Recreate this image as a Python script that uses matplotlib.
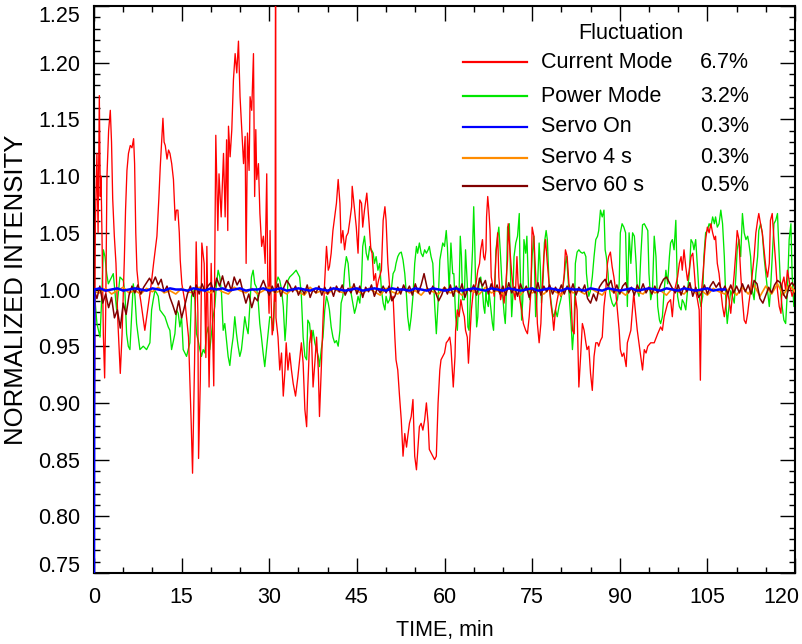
import numpy as np
import matplotlib
matplotlib.use("Agg")
import matplotlib.pyplot as plt
from matplotlib.ticker import MultipleLocator
from matplotlib.transforms import ScaledTranslation

plt.rcParams['font.family'] = ['Liberation Sans', 'DejaVu Sans']

# ---------------- data ----------------
# Current Mode (minutes, normalized intensity)
current_t = [
    0.0, 0.1, 0.23, 0.5, 0.7, 0.91, 1.08, 1.2, 1.37, 1.6, 1.82, 2.0, 2.22, 2.5, 2.79, 3.0, 3.2, 3.48, 3.76, 4.1,
    4.5, 4.8, 5.19, 5.4, 5.64, 5.9, 6.21, 6.5, 6.78, 6.95, 7.15, 7.35, 7.64, 8.0, 8.4, 8.7, 9.0, 9.4, 9.8, 10.2,
    10.77, 11.1, 11.34, 11.8, 12.0, 12.2, 12.5, 12.76, 13.0, 13.3, 13.6, 13.9, 14.1, 14.36, 14.6, 14.76, 15.04, 15.6, 16.18, 16.64,
    16.87, 17.21, 17.49, 17.78, 17.9, 18.2, 18.46, 18.86, 19.15, 19.32, 19.7, 20.06, 20.5, 20.85, 21.2, 21.4, 21.77, 22.17, 22.45, 22.7,
    22.9, 23.02, 23.3, 23.59, 23.87, 24.16, 24.44, 24.73, 25.0, 25.3, 25.6, 25.87, 26.04, 26.27, 26.55, 26.72, 27.0, 27.3, 27.5, 27.7,
    27.86, 28.15, 28.4, 28.7, 29.0, 29.3, 29.57, 29.74, 29.97, 30.14, 30.3, 30.5, 30.7, 30.9,
    31.0, 31.08, 31.15, 31.5, 31.8, 32.1, 32.4, 32.7, 32.9, 33.2, 33.5, 33.8, 34.1, 34.5, 34.9, 35.5, 35.8, 36.1, 36.4, 36.6,
    36.9, 37.2, 37.5, 37.8, 38.1, 38.4, 38.6, 38.9, 39.2, 39.5, 39.8, 40.1, 40.3, 40.6, 40.9, 41.2, 41.5, 41.8, 42.1, 42.3,
    42.6, 42.9, 43.2, 43.5, 43.8, 44.1, 44.2, 44.6, 44.9, 45.2, 45.5, 45.8, 46.0, 46.3, 46.7, 47.1, 47.4, 47.6, 47.9, 48.2,
    48.4, 48.7, 49.2, 49.5, 49.8, 50.0, 50.3, 50.6, 50.9, 51.2, 51.5, 51.7, 52.0, 52.3, 52.6, 52.9, 53.2, 53.5, 53.7, 54.0,
    54.3, 54.6, 54.9, 55.2, 55.4, 55.7, 56.0, 56.3, 56.6, 56.9, 57.2, 57.4, 57.7, 58.0, 58.3, 58.6, 58.9, 59.2, 59.4, 59.7,
    60.0, 60.3, 60.6, 60.9,
    61.1, 61.4, 61.5, 61.8, 61.9, 62.2, 62.5, 62.8, 63.1, 63.4, 63.6, 63.9, 64.1, 64.4, 64.6, 64.9, 65.4, 65.7, 66.0, 66.2,
    66.5, 66.7, 66.9, 67.1, 67.2, 67.4, 67.6, 67.8, 68.0, 68.2, 68.5, 68.8, 69.1, 69.3, 69.6, 69.9, 70.2, 70.5, 70.8, 70.9,
    71.2, 71.5, 71.8, 72.1, 72.4, 72.6, 72.9, 73.2, 73.5, 73.9, 74.2, 74.5, 74.8, 75.0, 75.3, 75.6, 75.9, 76.2, 76.5, 76.7,
    77.0, 77.3, 77.6, 77.9, 78.2, 78.5, 78.7, 79.0, 79.3, 79.6, 79.9, 80.2, 80.5, 80.7, 81.0, 81.3, 81.6, 81.9, 82.2, 82.4,
    82.7, 83.0, 83.3, 83.6, 83.9, 84.2, 84.4, 84.7, 85.0, 85.3, 85.6, 85.9, 86.2, 86.4, 86.7, 87.0, 87.3, 87.6, 87.9, 88.1,
    88.4, 88.7, 89.0, 89.3, 89.6, 89.9, 90.1, 90.4, 90.7,
    91.1, 91.3, 91.9, 92.4, 92.6, 93.0, 93.9, 94.2, 94.5, 94.8, 95.3, 95.9, 96.5, 97.0, 97.3, 97.6, 98.2, 98.7, 99.0, 99.3,
    99.9, 100.2, 100.5, 100.7, 101.0, 101.3, 101.6, 101.9, 102.2, 102.5, 102.7, 103.0, 103.3, 103.6, 103.8, 104.0, 104.3, 104.7, 105.0, 105.3,
    105.6, 105.9, 106.2, 106.4, 106.7, 107.0, 107.3, 107.6, 107.9, 108.2, 108.4, 108.7, 109.0, 109.3, 109.6, 109.9, 110.1, 110.4, 110.7, 111.0,
    111.3, 111.6, 111.9, 112.1, 112.4, 112.7, 113.0, 113.3, 113.6, 113.8, 114.1, 114.4, 114.7, 115.0, 115.3, 115.6, 115.8, 116.1, 116.4, 116.7,
    117.0, 117.3, 117.6, 117.8, 118.1, 118.4, 118.7, 119.0, 119.3, 119.5, 119.8, 120.0,
]
current_v = [
    0.830, 0.920, 1.058, 1.120, 1.050, 1.171, 1.082, 1.100, 1.047, 0.960, 0.922, 0.980, 1.100, 1.140, 1.158, 1.130, 1.080, 1.047, 1.023, 0.970,
    0.926, 0.960, 1.026, 1.070, 1.105, 1.120, 1.127, 1.125, 1.133, 1.111, 1.050, 1.017, 1.002, 0.990, 0.975, 0.964, 0.975, 0.990, 1.005, 1.023,
    1.047, 1.080, 1.108, 1.151, 1.130, 1.127, 1.115, 1.123, 1.120, 1.111, 1.097, 1.061, 1.070, 1.070, 1.050, 1.026, 1.005, 0.988, 0.958, 0.882,
    0.838, 0.935, 1.042, 0.980, 0.851, 0.920, 1.041, 1.023, 0.940, 1.038, 0.914, 1.023, 0.915, 1.136, 1.052, 1.102, 1.064, 1.120, 1.064, 1.132,
    1.052, 1.144, 1.117, 1.141, 1.185, 1.208, 1.191, 1.219, 1.170, 1.141, 1.111, 1.135, 1.023, 1.138, 1.105, 1.170, 1.158, 1.208, 1.082, 1.141,
    1.097, 1.111, 1.067, 1.038, 1.047, 1.023, 1.102, 1.011, 0.979, 1.052, 0.994, 0.960, 0.967, 1.000,
    0.990, 1.330, 0.975, 0.958, 0.929, 0.944, 0.906, 0.929, 0.953, 0.929, 0.944, 0.929, 0.917, 0.906, 0.923, 0.953, 0.935, 0.894, 0.879, 0.914,
    0.953, 0.964, 0.914, 0.935, 0.958, 0.929, 0.888, 0.929, 0.973, 1.008, 1.038, 1.017, 1.020, 1.032, 1.052, 1.064, 1.076, 1.097, 1.076, 1.041,
    1.052, 1.035, 1.047, 1.050, 1.061, 1.073, 1.091, 1.070, 1.055, 1.032, 1.079, 1.076, 1.055, 1.070, 1.085, 1.058, 1.035, 1.032, 1.008, 1.014,
    1.000, 1.008, 1.017, 1.061, 1.073, 1.061, 1.023, 1.003, 0.991, 0.994, 0.958, 0.938, 0.929, 0.906, 0.885, 0.853, 0.873, 0.861, 0.870, 0.882,
    0.888, 0.903, 0.853, 0.841, 0.856, 0.879, 0.882, 0.876, 0.885, 0.900, 0.882, 0.859, 0.856, 0.853, 0.850, 0.853, 0.900, 0.929, 0.938, 0.941,
    0.944, 0.953, 0.955, 0.958,
    0.950, 0.923, 0.914, 0.941, 0.964, 0.982, 0.976, 0.991, 0.982, 0.976, 0.964, 0.958, 0.935, 0.964, 0.982, 0.997, 1.005, 1.017, 1.023, 1.035,
    1.044, 1.029, 1.026, 1.035, 1.064, 1.082, 1.070, 1.052, 1.011, 1.005, 0.994, 1.029, 1.050, 1.011, 0.991, 0.999, 0.988, 1.005, 1.026, 1.058,
    1.035, 1.014, 0.999, 0.991, 1.029, 1.005, 0.991, 0.982, 0.970, 0.964, 0.961, 0.976, 0.999, 1.055, 1.047, 1.014, 0.970, 0.953, 0.970, 0.999,
    1.029, 1.044, 1.023, 1.005, 0.988, 0.976, 0.964, 0.982, 0.991, 0.999, 0.994, 0.999, 1.014, 1.035, 1.029, 1.005, 0.999, 0.964, 0.961, 0.994,
    0.982, 0.914, 0.941, 0.970, 0.964, 0.953, 0.947, 0.950, 0.926, 0.911, 0.941, 0.953, 0.953, 0.950, 0.955, 0.958, 0.985, 0.999, 1.023, 1.029,
    1.033, 1.020, 1.011, 0.999, 0.982, 0.964, 0.947, 0.941, 0.944,
    0.932, 0.953, 0.964, 0.997, 0.985, 0.964, 0.929, 0.947, 0.944, 0.950, 0.953, 0.953, 0.961, 0.967, 0.964, 0.976, 0.988, 0.991, 0.976, 0.997,
    1.011, 1.023, 1.029, 1.017, 1.035, 1.020, 1.008, 1.017, 1.029, 1.032, 1.020, 0.999, 0.991, 0.982, 0.920, 0.999, 1.017, 1.044, 1.055, 1.050,
    1.058, 1.050, 1.044, 1.047, 1.023, 1.014, 0.999, 0.985, 0.976, 0.988, 0.999, 0.991, 0.979, 0.997, 1.014, 1.035, 1.052, 1.044, 1.014, 0.991,
    0.973, 0.970, 0.979, 0.988, 0.999, 1.014, 1.029, 1.050, 1.061, 1.067, 1.058, 1.050, 1.035, 1.020, 1.011, 1.023, 1.061, 1.067, 1.044, 1.023,
    0.999, 0.985, 0.979, 1.005, 1.011, 0.999, 1.017, 1.008, 0.999, 0.994, 0.999, 1.000,
]

# Power Mode
power_t = [
    0.0, 0.17, 0.5, 1.03, 1.3, 1.6, 1.88, 2.17, 2.45, 3.3, 3.87, 4.44, 5.01, 5.3, 5.58, 5.87, 6.15, 6.44, 6.72, 7.01,
    7.29, 7.58, 7.86, 8.43, 9.0, 9.29, 9.57, 9.86, 10.14, 10.43, 10.71, 11.0, 11.28, 12.14, 12.71, 12.99, 13.28, 13.85, 14.13, 14.42,
    14.7, 14.99, 15.27, 15.56, 15.84, 16.41, 16.69, 16.98, 17.27, 17.55, 17.83, 18.12, 18.4, 18.69, 18.97, 19.26, 19.54, 19.83, 20.11, 20.4,
    20.68, 20.97, 21.25, 21.54, 21.82, 22.11, 22.39, 22.68, 22.96, 23.25, 23.53, 23.82, 24.1, 24.39, 24.67, 24.96, 25.24, 25.53, 25.81, 26.1,
    26.38, 26.67, 26.95, 27.24, 27.52, 27.81, 28.09, 28.38, 28.66, 28.95, 29.23, 29.52, 29.8, 30.09,
    30.4, 30.7, 30.9, 31.2, 31.5, 31.8, 32.1, 32.4, 32.7, 32.9, 33.2, 33.5, 34.1, 34.6, 35.2, 35.5, 35.8, 36.1, 36.4, 36.6,
    36.9, 37.2, 37.5, 37.8, 38.1, 38.4, 38.6, 38.9, 39.2, 39.5, 39.8, 40.1, 40.3, 40.6, 40.9, 41.2, 41.5, 41.8, 42.1, 42.3,
    42.6, 42.9, 43.2, 43.5, 43.8, 44.1, 44.3, 44.6, 44.9, 45.2, 45.5, 45.8, 46.0, 46.3, 46.6, 46.9, 47.2, 47.5, 47.8, 48.0,
    48.3, 48.6, 48.9, 49.2, 49.5, 49.8, 50.0, 50.3, 50.6, 50.9, 51.2, 51.5, 51.7, 52.0, 52.3, 52.6, 52.9, 53.2, 53.5, 53.7,
    54.0, 54.3, 54.6, 54.9, 55.2, 55.4, 55.7, 56.0, 56.3, 56.6, 56.9, 57.2, 57.4, 57.7, 58.0, 58.3, 58.6, 58.9, 59.2, 59.4,
    59.7, 60.0, 60.3,
    60.5, 60.8, 61.1, 61.4, 61.6, 61.9, 62.2, 62.5, 62.7, 62.9, 63.1, 63.4, 63.6, 63.9, 64.0, 64.2, 64.5, 64.8, 65.0, 65.2,
    65.4, 65.5, 65.7, 65.9, 66.2, 66.5, 66.7, 66.9, 67.1, 67.2, 67.5, 67.6, 67.9, 68.2, 68.4, 68.5, 68.8, 69.1, 69.3, 69.6,
    69.9, 70.2, 70.4, 70.5, 70.8, 71.1, 71.3, 71.5, 71.7, 71.9, 72.2, 72.5, 72.8, 72.9, 73.2, 73.4, 73.6, 73.9, 74.1, 74.4,
    74.6, 74.8, 75.0, 75.3, 75.6, 75.9, 76.2, 76.4, 76.6, 76.9, 77.1, 77.4, 77.6, 77.9, 78.2, 78.5, 78.7, 79.0, 79.3, 79.6,
    79.9, 80.2, 80.5, 80.7, 80.9, 81.1, 81.5, 81.7, 81.9, 82.2, 82.4, 82.7, 83.0, 83.3, 83.6, 83.9, 84.2, 84.3, 84.6, 84.7,
    85.0, 85.3, 85.6, 85.9, 86.2, 86.4, 86.7, 87.0, 87.3, 87.5, 87.7, 88.0, 88.1, 88.4, 88.7, 89.0, 89.3, 89.6, 89.9, 90.1,
    90.4, 90.7,
    91.0, 91.3, 91.6, 91.9, 92.2, 92.5, 92.8, 93.0, 93.3, 93.6, 93.9, 94.2, 94.5, 94.8, 95.0, 95.3, 95.6, 95.9, 96.2, 96.5,
    96.8, 97.0, 97.3, 97.6, 97.9, 98.2, 98.5, 98.7, 99.0, 99.3, 99.6, 99.9, 100.2, 100.5, 100.7, 101.0, 101.3, 101.6, 101.9, 102.2,
    102.5, 102.7, 103.0, 103.3, 103.6, 103.9, 104.2, 104.4, 104.7, 105.0, 105.3, 105.6, 105.9, 106.2, 106.4, 106.7, 107.0, 107.3, 107.6, 107.9,
    108.2, 108.4, 108.7, 109.0, 109.3, 109.6, 109.9, 110.1, 110.4, 110.7, 111.0, 111.3, 111.6, 111.9, 112.1, 112.4, 112.7, 113.0, 113.3, 113.6,
    113.8, 114.1, 114.4, 114.7, 115.0, 115.3, 115.6, 115.8, 116.1, 116.4, 116.7, 117.0, 117.3, 117.6, 117.8, 118.1, 118.4, 118.7, 119.0, 119.3,
    119.5, 119.8, 120.0,
]
power_v = [
    1.005, 0.991, 0.970, 0.958, 0.990, 1.035, 1.029, 1.014, 1.005, 1.014, 0.982, 1.011, 1.008, 0.997, 0.961, 0.950, 0.947, 0.976, 1.005, 0.994,
    0.970, 0.958, 0.947, 0.950, 0.947, 0.950, 0.953, 0.982, 0.991, 0.999, 0.997, 0.994, 0.982, 0.976, 0.967, 0.964, 0.947, 0.961, 0.982, 0.979,
    0.967, 0.976, 0.947, 0.944, 0.941, 0.953, 0.994, 0.999, 0.991, 0.961, 0.955, 0.947, 0.941, 0.947, 0.944, 0.961, 0.967, 0.947, 0.961, 0.976,
    0.985, 1.005, 1.017, 1.011, 0.997, 0.964, 0.970, 0.955, 0.941, 0.933, 0.947, 0.958, 0.976, 0.961, 0.950, 0.941, 0.947, 0.961, 0.976, 0.967,
    0.961, 0.985, 1.011, 1.017, 1.005, 1.002, 0.991, 0.970, 0.958, 0.944, 0.932, 0.947, 0.961, 0.976,
    0.975, 0.964, 0.990, 1.005, 1.011, 1.008, 1.000, 0.985, 0.955, 0.970, 1.008, 1.011, 1.014, 1.017, 1.011, 0.994, 0.958, 0.941, 0.938, 0.973,
    0.970, 0.953, 0.964, 0.953, 0.947, 0.941, 0.932, 0.947, 0.958, 0.982, 0.994, 0.988, 0.982, 0.967, 0.958, 0.953, 0.955, 0.950, 0.964, 0.988,
    0.994, 1.017, 1.029, 1.023, 1.003, 0.994, 0.988, 0.979, 0.985, 0.994, 0.988, 1.008, 1.038, 1.047, 1.032, 1.026, 1.038, 1.035, 1.032, 1.023,
    1.029, 1.017, 1.023, 1.000, 0.988, 0.982, 0.994, 0.988, 0.991, 1.000, 1.014, 1.017, 1.023, 1.029, 1.032, 1.033, 1.026, 1.014, 0.994, 0.976,
    0.964, 0.976, 0.994, 1.023, 1.038, 1.032, 1.041, 1.032, 1.029, 1.035, 1.032, 1.035, 1.038, 1.029, 1.023, 0.988, 0.961, 0.988, 1.026, 1.032,
    1.041, 1.038, 1.052,
    1.037, 0.999, 1.041, 1.014, 1.014, 0.976, 0.964, 0.999, 1.047, 1.029, 0.991, 0.991, 1.035, 1.005, 0.967, 0.964, 0.999, 1.035, 1.073, 1.035,
    0.985, 0.967, 0.976, 1.005, 1.011, 0.999, 0.985, 0.979, 0.999, 0.991, 0.985, 0.999, 0.985, 0.970, 0.964, 0.979, 1.035, 1.047, 1.055, 1.029,
    0.999, 0.979, 0.970, 0.982, 1.055, 1.058, 1.014, 0.976, 0.994, 1.029, 1.041, 1.047, 1.067, 1.029, 0.973, 0.991, 1.044, 1.032, 1.047, 0.999,
    0.991, 1.005, 1.029, 1.047, 0.976, 0.999, 1.041, 1.020, 0.988, 1.011, 1.041, 1.052, 1.044, 1.005, 0.991, 0.979, 0.976, 0.982, 0.976, 0.985,
    0.991, 0.999, 1.011, 1.023, 1.029, 1.014, 0.982, 0.967, 0.947, 0.970, 1.023, 1.033, 1.035, 1.033, 1.032, 1.033, 1.029, 1.014, 0.999, 0.994,
    0.999, 1.011, 1.029, 1.044, 1.047, 1.052, 1.070, 1.064, 1.070, 1.035, 1.029, 1.014, 1.005, 0.994, 0.988, 0.985, 0.988, 0.991, 1.005, 1.050,
    1.058, 1.055,
    1.050, 0.985, 1.050, 1.023, 1.050, 1.047, 1.023, 0.999, 0.994, 1.029, 1.057, 1.058, 1.055, 1.052, 1.014, 0.991, 0.999, 1.047, 1.029, 0.985,
    0.973, 0.970, 0.976, 0.999, 1.017, 1.005, 1.029, 1.041, 1.044, 1.035, 1.061, 0.994, 0.985, 0.982, 0.991, 0.988, 0.982, 0.999, 1.014, 1.044,
    1.041, 1.035, 1.044, 1.020, 0.994, 0.985, 0.994, 1.029, 1.050, 1.052, 1.058, 1.055, 1.064, 1.058, 1.064, 1.055, 1.058, 1.070, 1.058, 1.029,
    0.985, 0.970, 0.985, 0.999, 0.994, 0.988, 1.014, 1.035, 1.044, 1.029, 1.067, 1.050, 1.044, 1.047, 1.041, 1.029, 0.999, 0.991, 1.014, 1.029,
    1.052, 1.058, 1.050, 1.029, 1.014, 0.999, 0.985, 0.999, 1.029, 1.058, 1.061, 1.067, 1.029, 0.994, 0.985, 0.973, 0.970, 0.999, 1.044, 1.058,
    1.014, 0.985, 0.999,
]

# Servo On: starts at the bottom of the scale, then locked to 1.000 until ~108 min
servo_on_t = [0.0, 0.05] + list(range(1, 109))
servo_on_v = [
    0.740, 1.000,
    1.001, 0.999, 1.000, 1.001, 0.999, 1.000, 1.001, 1.000, 0.999, 1.001,
    1.000, 0.999, 1.001, 1.000, 1.000, 0.999, 1.001, 1.000, 0.999, 1.001,
    1.000, 1.001, 0.999, 1.000, 1.001, 0.999, 1.000, 1.000, 1.001, 0.999,
    1.000, 1.001, 0.999, 1.000, 1.001, 1.000, 0.999, 1.001, 1.000, 0.999,
    1.001, 1.000, 0.999, 1.000, 1.001, 0.999, 1.000, 1.001, 1.000, 0.999,
    1.001, 1.000, 1.000, 0.999, 1.001, 1.000, 0.999, 1.001, 1.000, 0.999,
    1.000, 1.001, 0.999, 1.000, 1.001, 1.000, 0.999, 1.001, 1.000, 0.999,
    1.001, 1.000, 0.999, 1.000, 1.001, 0.999, 1.000, 1.001, 1.000, 0.999,
    1.001, 1.000, 1.000, 0.999, 1.001, 1.000, 0.999, 1.001, 1.000, 0.999,
    1.000, 1.001, 0.999, 1.000, 1.001, 1.000, 0.999, 1.001, 1.000, 0.999,
    1.001, 1.000, 0.999, 1.000, 1.001, 0.999, 1.000, 1.000,
]

# Servo 4 s, one reading per minute
servo4_t = list(range(0, 121))
servo4_v = [
    0.998, 0.997, 1.001, 0.996, 0.999, 1.002, 0.997, 0.999, 0.996, 1.001,
    0.998, 1.002, 0.997, 0.999, 0.996, 1.001, 0.998, 0.997, 1.002, 0.999,
    0.997, 1.001, 0.998, 0.996, 1.002, 0.999, 0.997, 1.001, 0.996, 0.999,
    1.002, 0.997, 0.999, 0.996, 1.001, 0.998, 0.995, 1.002, 0.997, 0.999,
    0.996, 1.001, 0.998, 0.997, 1.002, 0.999, 0.996, 1.001, 0.998, 0.995,
    1.001, 0.998, 0.996, 1.002, 0.997, 0.999, 0.995, 1.001, 0.998, 0.996,
    1.002, 0.997, 0.999, 0.995, 1.001, 0.998, 0.996, 1.002, 0.997, 0.999,
    0.996, 1.001, 0.998, 0.995, 1.002, 0.997, 0.999, 0.996, 1.001, 0.998,
    0.995, 1.002, 0.997, 0.999, 0.996, 1.001, 0.998, 0.995, 1.002, 0.997,
    0.999, 0.995, 1.001, 0.998, 0.996, 1.002, 0.997, 0.999, 0.995, 1.001,
    0.998, 0.996, 1.002, 0.997, 0.999, 0.995, 1.001, 0.998, 0.996, 1.003,
    0.995, 1.002, 0.996, 1.004, 0.994, 1.003, 0.996, 1.005, 0.995, 1.004,
    0.998,
]

# Servo 60 s, one reading every half minute
servo60_t = [0.5 * i for i in range(241)]
servo60_v = [
    1.000, 0.992, 1.003, 0.988, 0.996, 0.984, 0.993, 0.975, 0.982, 0.966, 0.988, 0.978, 0.995, 1.003, 0.997, 1.004, 0.996, 1.002, 1.006, 1.010,
    1.005, 1.011, 1.004, 1.009, 0.998, 1.003, 0.993, 0.986, 0.978, 0.990, 0.975, 0.985, 0.996, 1.003, 0.994, 1.004, 0.996, 1.005, 0.998, 1.003,
    1.006, 0.998, 1.010, 1.003, 1.012, 1.001, 1.007, 0.999, 1.011, 1.004, 1.009, 0.998, 0.988, 0.996, 0.984, 0.993, 0.990, 1.002, 1.008, 1.001,
    0.995, 1.003, 0.997, 1.005, 0.994, 1.002, 1.008, 1.004, 0.998, 1.003, 0.995, 1.001, 0.996, 1.004, 0.993, 1.000, 0.997, 1.003, 0.995, 1.002,
    0.996, 1.002, 0.994, 1.003, 0.998, 1.004, 0.995, 1.001, 0.997, 1.005, 0.996, 1.003, 0.993, 1.002, 0.998, 1.004, 0.994, 1.001, 0.997, 1.003,
    0.997, 1.003, 0.990, 0.994, 1.002, 0.996, 1.004, 0.998, 1.003, 0.995, 1.005, 0.997, 1.004, 1.014, 1.002, 0.996, 1.003, 0.997, 0.990, 0.995,
    1.002, 0.996, 1.004, 0.994, 1.003, 0.997, 1.005, 0.993, 1.001, 0.998, 1.004, 0.995, 1.010, 1.003, 1.008, 0.996, 1.005, 0.998, 1.004, 0.996,
    1.003, 0.995, 1.006, 0.997, 1.002, 0.994, 1.005, 0.998, 1.003, 0.993, 1.001, 0.997, 1.006, 0.995, 1.003, 0.998, 1.004, 0.996, 1.002, 0.997,
    1.004, 0.996, 1.003, 0.997, 1.005, 0.995, 1.002, 0.998, 1.004, 0.992, 0.988, 0.996, 0.990, 1.002, 1.006, 1.009, 1.003, 1.008, 0.997, 1.004,
    0.996, 1.003, 1.006, 0.997, 1.002, 0.995, 1.004, 0.998, 1.005, 0.997, 1.002, 0.996, 1.003, 0.997, 1.004, 1.009, 1.011, 1.006, 1.001, 0.997,
    1.004, 0.995, 1.003, 0.998, 1.006, 0.994, 1.002, 0.993, 0.997, 1.004, 0.996, 1.003, 1.007, 1.002, 1.006, 0.998, 1.003, 0.996, 1.004, 0.997,
    1.003, 0.997, 1.005, 0.998, 1.004, 0.996, 1.008, 1.005, 0.992, 0.988, 0.995, 1.002, 0.997, 1.004, 1.008, 1.006, 0.996, 0.992, 1.003, 1.006,
    1.002,
]

legend_names = ["Current Mode", "Power Mode", "Servo On", "Servo 4 s", "Servo 60 s"]
legend_pct = ["6.7%", "3.2%", "0.3%", "0.3%", "0.5%"]
colors = ["#ff0000", "#00e600", "#0000ff", "#ff8c00", "#800000"]

x_ticks = [0, 15, 30, 45, 60, 75, 90, 105, 120]
y_ticks = [0.75, 0.80, 0.85, 0.90, 0.95, 1.00, 1.05, 1.10, 1.15, 1.20, 1.25]

# ---------------- figure ----------------
fig = plt.figure(figsize=(8.03, 6.44), dpi=100)
ax = fig.add_axes([94 / 803, 1 - 573 / 644, 701 / 803, 567 / 644])

ax.plot(power_t, power_v, color=colors[1], lw=0.95, zorder=2)
ax.plot(current_t, current_v, color=colors[0], lw=0.95, zorder=3)
ax.plot(servo4_t, servo4_v, color=colors[3], lw=1.2, zorder=4)
ax.plot(servo60_t, servo60_v, color=colors[4], lw=1.1, zorder=5)
ax.plot(servo_on_t, servo_on_v, color=colors[2], lw=1.8, zorder=6)

ax.set_xlim(0, 120)
ax.set_ylim(0.75, 1.25)
ax.set_xticks(x_ticks)
ax.set_xticklabels([str(v) for v in x_ticks])
ax.set_yticks(y_ticks)
ax.set_yticklabels([f"{v:.2f}" for v in y_ticks])
ax.xaxis.set_minor_locator(MultipleLocator(5))
ax.yaxis.set_minor_locator(MultipleLocator(0.01))

ax.tick_params(which='both', direction='in', top=True, right=True, width=1.0, labelsize=15.5)
ax.tick_params(which='major', length=11, pad=10)
ax.tick_params(which='minor', length=4.5)
for s in ax.spines.values():
    s.set_linewidth(1.5)

# keep the end labels inside the figure
ylabels = ax.get_yticklabels()
ylabels[0].set_verticalalignment('bottom')
ylabels[0].set_transform(ylabels[0].get_transform() + ScaledTranslation(0, -4 / 100, fig.dpi_scale_trans))
ylabels[-1].set_verticalalignment('top')
xlabels = ax.get_xticklabels()
xlabels[-1].set_horizontalalignment('right')
xlabels[-1].set_transform(xlabels[-1].get_transform() + ScaledTranslation(4 / 100, 0, fig.dpi_scale_trans))

ax.set_xlabel("TIME, min", fontsize=15.5, labelpad=9)
ax.set_ylabel("NORMALIZED INTENSITY", fontsize=18.5, labelpad=7)

# legend block: title, sample line, series name, fluctuation value
ax.text(0.766, 0.951, "Fluctuation", transform=ax.transAxes, ha='center', va='center', fontsize=15.5)
rows_y = [0.901, 0.841, 0.787, 0.732, 0.683]
for name, pct, c, yy in zip(legend_names, legend_pct, colors, rows_y):
    ax.plot([0.526, 0.617], [yy, yy], transform=ax.transAxes, color=c, lw=1.6, zorder=7)
    ax.text(0.637, yy, name, transform=ax.transAxes, ha='left', va='center', fontsize=15.5)
    ax.text(0.865, yy, pct, transform=ax.transAxes, ha='left', va='center', fontsize=15.5)

fig.savefig("out.png", dpi=100)
